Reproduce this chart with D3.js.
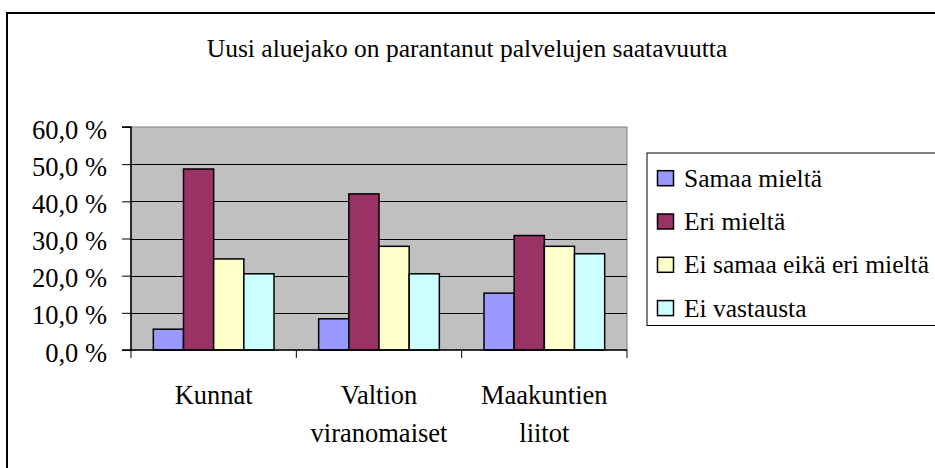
<!DOCTYPE html>
<html><head><meta charset="utf-8">
<script src="https://cdn.jsdelivr.net/npm/d3@7"></script>
<style>html,body{margin:0;padding:0;background:#fff;}svg{display:block;}
svg text{font-family:"Liberation Serif","Times New Roman",Times,serif;fill:#000;}</style>
</head><body>
<script>
const title = "Uusi aluejako on parantanut palvelujen saatavuutta";
const categories = [["Kunnat"], ["Valtion", "viranomaiset"], ["Maakuntien", "liitot"]];
const seriesNames = ["Samaa mieltä", "Eri mieltä", "Ei samaa eikä eri mieltä", "Ei vastausta"];
const seriesColors = ["#9999FF", "#993366", "#FFFFCC", "#CCFFFF"];
const samaa = [5.6, 8.4, 15.3];
const eri = [48.7, 42.0, 30.8];
const eiSamaa = [24.5, 27.9, 27.9];
const eiVastausta = [20.5, 20.5, 25.9];
const yTicks = [0, 10, 20, 30, 40, 50, 60];

const series = [samaa, eri, eiSamaa, eiVastausta];
const W = 935, H = 468;
const svg = d3.select("body").append("svg").attr("width", W).attr("height", H);

// outer border
svg.append("rect").attr("x", 7).attr("y", 13).attr("width", W + 10).attr("height", H + 10)
  .attr("fill", "#fff").attr("stroke", "#000").attr("stroke-width", 2);

svg.append("text").attr("x", 467).attr("y", 57).attr("text-anchor", "middle")
  .attr("font-size", 25.5).text(title);

const L = 131, R = 627, T = 127, B = 350;
const x0 = d3.scaleBand().domain(d3.range(categories.length)).range([L, R]).padding(0);
const x1 = d3.scaleBand().domain(d3.range(series.length)).range([0, x0.bandwidth()]).paddingInner(0).paddingOuter(0.74);
const y = d3.scaleLinear().domain([0, 60]).range([B, T]);

svg.append("rect").attr("x", L).attr("y", T).attr("width", R - L).attr("height", B - T)
  .attr("fill", "#C0C0C0").attr("stroke", "#808080").attr("stroke-width", 1);

// gridlines
svg.append("g").selectAll("line").data(yTicks.filter(d => d > 0 && d < 60)).join("line")
  .attr("x1", L).attr("x2", R).attr("y1", d => Math.round(y(d)) + 0.5).attr("y2", d => Math.round(y(d)) + 0.5)
  .attr("stroke", "#000").attr("stroke-width", 1);

// bars
const g = svg.append("g");
categories.forEach((c, ci) => {
  series.forEach((s, si) => {
    g.append("rect")
      .attr("x", x0(ci) + x1(si)).attr("width", x1.bandwidth())
      .attr("y", y(s[ci])).attr("height", B - y(s[ci]))
      .attr("fill", seriesColors[si]).attr("stroke", "#000").attr("stroke-width", 1.5);
  });
});

// y axis
const yAxis = d3.axisLeft(y).tickValues(yTicks).tickSize(9).tickFormat(d => d3.format(".1f")(d).replace(".", ",") + " %");
const ya = svg.append("g").attr("transform", `translate(${L},0)`).call(yAxis);
ya.attr("font-family", null);
ya.select(".domain").attr("stroke", "#000").attr("stroke-width", 1.5).attr("d", `M-9,${T}H0V${B}H-9`);
ya.selectAll(".tick line").attr("stroke", "#000");
ya.selectAll(".tick text").attr("font-size", 26.5).attr("fill", "#000")
  .attr("x", -24).attr("dy", null).attr("y", 11);

// x axis
const xa = svg.append("g");
xa.append("line").attr("x1", L).attr("x2", R).attr("y1", B).attr("y2", B).attr("stroke", "#000").attr("stroke-width", 1.5);
xa.selectAll("line.t").data(d3.range(categories.length + 1)).join("line").attr("class", "t")
  .attr("x1", d => d < categories.length ? x0(d) : R).attr("x2", d => d < categories.length ? x0(d) : R)
  .attr("y1", B).attr("y2", B + 8).attr("stroke", "#000");
categories.forEach((lines, ci) => {
  const t = xa.append("text").attr("text-anchor", "middle").attr("font-size", 26.5);
  lines.forEach((ln, li) => {
    t.append("tspan").attr("x", x0(ci) + x0.bandwidth() / 2).attr("y", 404 + li * 38).text(ln);
  });
});

// legend
const lg = svg.append("g");
lg.append("rect").attr("x", 647).attr("y", 153).attr("width", 320).attr("height", 172.5)
  .attr("fill", "#fff").attr("stroke", "#000").attr("stroke-width", 1);
seriesNames.forEach((n, i) => {
  const by = 186.7 + i * 43.3;
  lg.append("rect").attr("x", 657.5).attr("y", by - 16).attr("width", 16).attr("height", 15)
    .attr("fill", seriesColors[i]).attr("stroke", "#000").attr("stroke-width", 1.5);
  lg.append("text").attr("x", 684).attr("y", by).attr("font-size", 25.5).text(n);
});
</script>
</body></html>
